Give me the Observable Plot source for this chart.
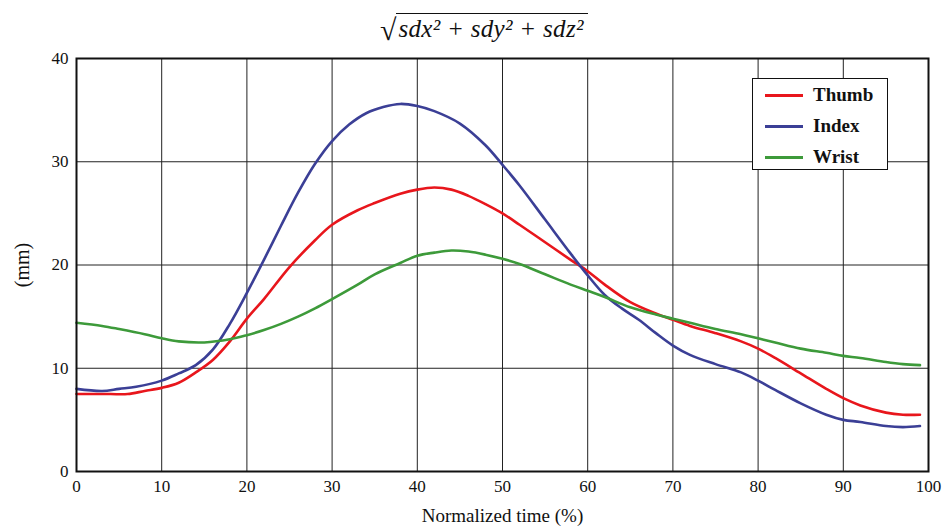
<!DOCTYPE html>
<html>
<head>
<meta charset="utf-8">
<script src="https://cdn.jsdelivr.net/npm/d3@7"></script>
<script src="https://cdn.jsdelivr.net/npm/@observablehq/plot@0.6"></script>
<style>
  body { margin: 0; background: #fff; font-family: "Liberation Serif", serif; }
  #wrap { position: relative; width: 943px; height: 527px; overflow: hidden; }
  #title { height: 48px; position: relative; }
  #formula { position: absolute; left: 380px; top: 10px; font-size: 25px; font-style: italic; white-space: nowrap; color: #111; font-family: "Liberation Serif", serif; }
  #formula .rad { font-style: normal; font-size: 30px; position: relative; top: 3px; }
  #formula .body { border-top: 1.5px solid #111; padding: 1px 4px 0 2px; letter-spacing: 0.3px; }
  #legend { position: absolute; left: 752px; top: 78px; width: 136px; height: 92px; border: 1px solid #111; background: #fff; box-sizing: border-box; }
  .row { position: absolute; left: 0; height: 22px; }
  .sw { position: absolute; left: 12px; width: 38px; height: 3px; top: 10px; }
  .lab { position: absolute; left: 60px; top: 0; font-weight: bold; font-size: 19px; line-height: 22px; color: #111; }
  svg [aria-label="x-axis tick label"] text, svg [aria-label="y-axis tick label"] text { font-size: 17px; }
  svg [aria-label="x-axis label"] text { font-size: 19px; }
  svg [aria-label="y-axis label"] text { font-size: 20px; }
</style>
</head>
<body>
<div id="wrap">
  <div id="title"><div id="formula"><span class="rad">√</span><span class="body">sdx² + sdy² + sdz²</span></div></div>
  <div id="chart"></div>
  <div id="legend"></div>
</div>
<script>
// Series: normalized time (%) and value (mm)
const thumbX = [0, 2, 4, 6, 8, 10, 12, 14, 16, 18, 20, 22, 25, 28, 30, 33, 35, 38, 40, 42, 44, 46, 48, 50, 52, 55, 58, 60, 62, 65, 68, 70, 72, 75, 78, 80, 82, 85, 88, 90, 92, 95, 97, 99];
const thumbY = [7.5, 7.5, 7.5, 7.5, 7.8, 8.1, 8.6, 9.6, 10.8, 12.6, 14.8, 16.7, 19.8, 22.4, 23.9, 25.3, 26.0, 26.9, 27.3, 27.5, 27.3, 26.7, 25.9, 25.0, 23.9, 22.2, 20.5, 19.4, 18.1, 16.4, 15.3, 14.7, 14.1, 13.4, 12.6, 11.9, 11.0, 9.5, 8.0, 7.1, 6.4, 5.7, 5.5, 5.5];

const indexX = [0, 3, 5, 7, 10, 12, 14, 16, 18, 20, 22, 24, 26, 28, 30, 32, 34, 36, 38, 40, 42, 45, 48, 50, 52, 55, 58, 60, 62, 64, 66, 68, 70, 72, 75, 78, 80, 82, 85, 88, 90, 92, 95, 97, 99];
const indexY = [8.0, 7.8, 8.0, 8.2, 8.8, 9.5, 10.3, 11.8, 14.3, 17.3, 20.5, 23.8, 27.0, 29.8, 32.0, 33.6, 34.7, 35.3, 35.6, 35.4, 34.9, 33.7, 31.6, 29.7, 27.7, 24.4, 21.1, 19.0, 17.1, 15.8, 14.7, 13.4, 12.2, 11.3, 10.4, 9.6, 8.8, 7.9, 6.6, 5.5, 5.0, 4.8, 4.4, 4.3, 4.4];

const wristX = [0, 3, 5, 8, 10, 12, 15, 18, 20, 22, 24, 26, 28, 30, 33, 35, 38, 40, 42, 44, 46, 48, 50, 52, 55, 58, 60, 62, 65, 68, 70, 72, 75, 78, 80, 82, 85, 88, 90, 92, 95, 97, 99];
const wristY = [14.4, 14.1, 13.8, 13.3, 12.9, 12.6, 12.5, 12.8, 13.2, 13.7, 14.3, 15.0, 15.8, 16.7, 18.1, 19.1, 20.2, 20.9, 21.2, 21.4, 21.3, 21.0, 20.6, 20.1, 19.1, 18.1, 17.5, 16.9, 15.9, 15.2, 14.8, 14.4, 13.8, 13.3, 12.9, 12.5, 11.9, 11.5, 11.2, 11.0, 10.6, 10.4, 10.3];

const seriesNames = ["Thumb", "Index", "Wrist"];
const seriesColors = ["#e8161c", "#3b3f96", "#3d9a3a"];
const xTicks = [0, 10, 20, 30, 40, 50, 60, 70, 80, 90, 100];
const yTicks = [0, 10, 20, 30, 40];
const xLabel = "Normalized time (%)";
const yLabel = "(mm)";

const toRows = (xs, ys, name) => xs.map((x, i) => ({x, y: ys[i], name}));
const data = [
  ...toRows(thumbX, thumbY, "Thumb"),
  ...toRows(indexX, indexY, "Index"),
  ...toRows(wristX, wristY, "Wrist")
];

const chart = Plot.plot({
  width: 943,
  height: 479,
  marginTop: 10,
  marginLeft: 76,
  marginRight: 15,
  marginBottom: 56,
  style: { fontFamily: "Liberation Serif, serif", fontSize: "17px", color: "#111", background: "#fff" },
  x: { domain: [0, 100] },
  y: { domain: [0, 40] },
  color: { domain: seriesNames, range: seriesColors },
  marks: [
    Plot.gridX(xTicks, { stroke: "#222", strokeOpacity: 1, strokeWidth: 1 }),
    Plot.gridY(yTicks, { stroke: "#222", strokeOpacity: 1, strokeWidth: 1 }),
    Plot.axisX(xTicks, { tickSize: 0, tickPadding: 8, fontSize: 17, label: xLabel, labelAnchor: "center", labelOffset: 50, labelArrow: "none" }),
    Plot.axisY(yTicks, { tickSize: 0, tickPadding: 8, fontSize: 17, label: yLabel, labelAnchor: "center", labelOffset: 62, labelArrow: "none" }),
    Plot.line(data, { x: "x", y: "y", z: "name", stroke: "name", strokeWidth: 2.6, curve: "catmull-rom" }),
    Plot.frame({ stroke: "#111", strokeWidth: 2 })
  ]
});
document.getElementById("chart").appendChild(chart);

// Legend
const legend = document.getElementById("legend");
seriesNames.forEach((n, i) => {
  const row = document.createElement("div");
  row.className = "row";
  row.style.top = (5 + i * 31) + "px";
  row.style.width = "100%";
  const sw = document.createElement("div");
  sw.className = "sw";
  sw.style.background = seriesColors[i];
  const lab = document.createElement("div");
  lab.className = "lab";
  lab.textContent = n;
  row.appendChild(sw);
  row.appendChild(lab);
  legend.appendChild(row);
});
</script>
</body>
</html>
